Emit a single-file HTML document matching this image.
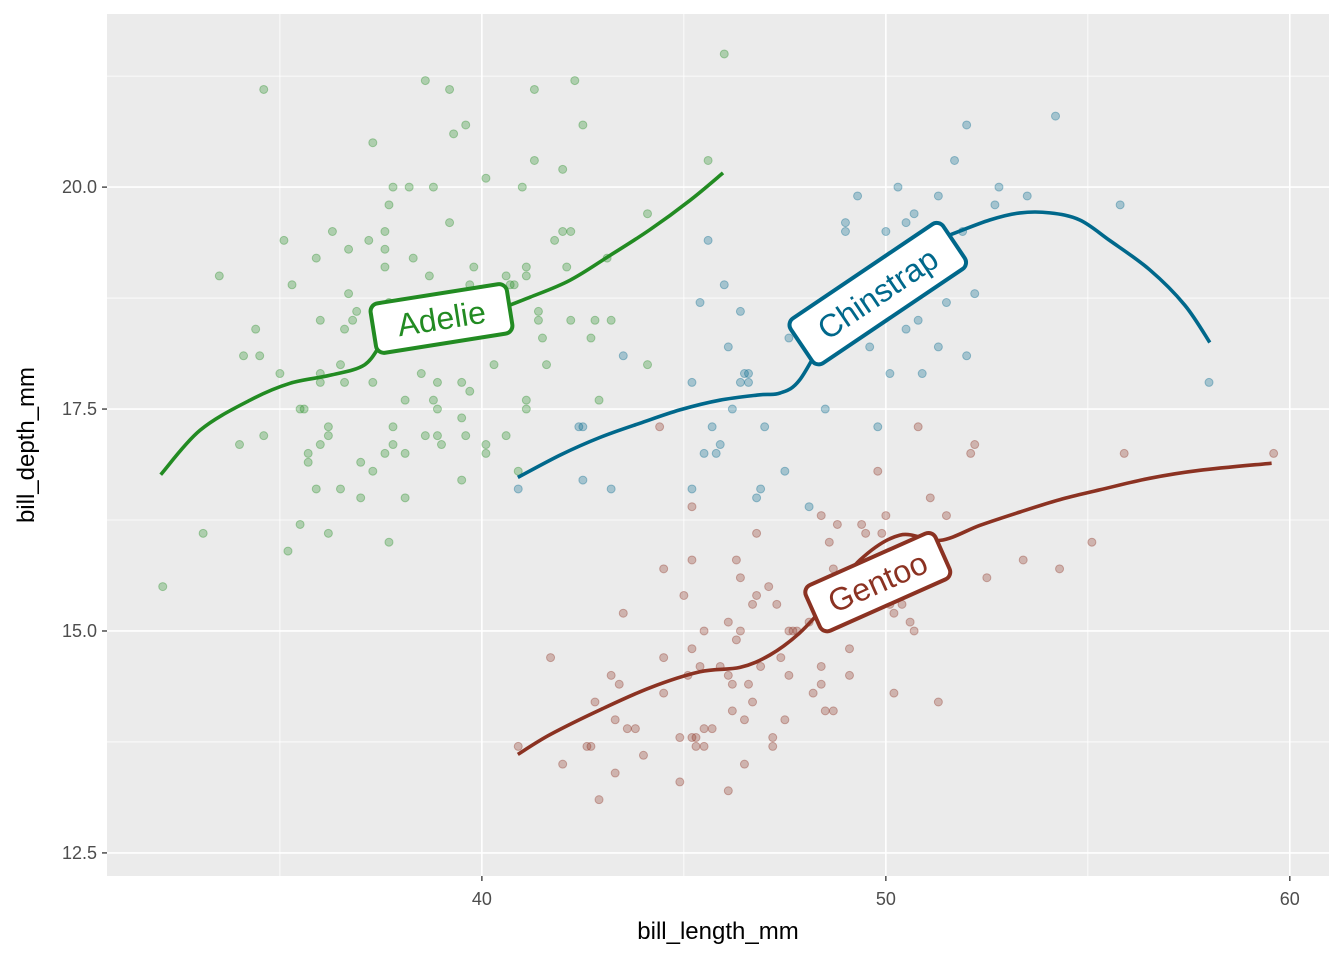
<!DOCTYPE html>
<html><head><meta charset="utf-8"><style>
body{margin:0;background:#fff;}
svg{display:block;font-family:"Liberation Sans",sans-serif;}
</style></head><body>
<svg id="chart" width="1344" height="960">
<rect x="0" y="0" width="1344" height="960" fill="#fff"/>
<rect x="107" y="14" width="1222" height="862" fill="#ebebeb"/>
<g id="grid"></g>
<g id="points"></g>
<g id="lines"></g>
<g id="labels"></g>
<g id="axes"></g>
<text x="718" y="939" font-size="24" text-anchor="middle" fill="#000">bill_length_mm</text>
<text transform="translate(34,445) rotate(-90)" font-size="24" text-anchor="middle" fill="#000">bill_depth_mm</text>
</svg>
<script>
const xTicks=[40,50,60];
const yTicks=[12.5,15.0,17.5,20.0];
const xMinor=[35,45,55];
const yMinor=[13.75,16.25,18.75,21.25];
const speciesNames=["Adelie","Chinstrap","Gentoo"];
const adelieX=[32.1,33.1,33.5,34.6,34.4,34.1,34.5,34.0,34.6,35.0,35.1,35.3,35.5,35.6,35.5,35.2,35.7,35.7,35.9,36.0,36.0,36.0,36.0,35.9,36.2,36.2,36.2,36.3,36.5,36.5,36.6,36.7,36.7,36.8,36.9,36.6,37.0,37.0,37.2,37.3,37.3,37.3,37.6,37.6,37.6,37.6,37.7,37.7,37.8,37.7,37.8,37.8,38.1,38.1,38.1,38.2,38.3,38.5,38.6,38.6,38.7,38.8,38.8,38.9,38.9,38.9,39.0,39.2,39.2,39.3,39.5,39.5,39.5,39.6,39.6,39.7,39.8,39.7,40.1,40.1,40.1,40.3,40.6,40.6,40.7,40.8,40.9,41.0,41.1,41.1,41.1,41.1,41.3,41.3,41.4,41.4,41.5,41.6,41.8,42.0,42.0,42.2,42.1,42.2,42.3,42.5,42.7,42.8,42.9,43.1,43.2,44.1,44.1,45.6,46.0];
const adelieY=[15.5,16.1,19.0,21.1,18.4,18.1,18.1,17.1,17.2,17.9,19.4,18.9,17.5,17.5,16.2,15.9,17.0,16.9,19.2,18.5,17.9,17.8,17.1,16.6,17.3,17.2,16.1,19.5,16.6,18.0,18.4,19.3,18.8,18.5,18.6,17.8,16.9,16.5,19.4,20.5,17.8,16.8,19.5,19.1,19.3,17.0,16.0,19.8,20.0,18.7,17.3,17.1,16.5,17.6,17.0,20.0,19.2,17.9,21.2,17.2,19.0,20.0,17.6,17.8,17.5,17.2,17.1,19.6,21.1,20.6,17.8,17.4,16.7,20.7,17.2,17.7,19.1,18.9,20.1,17.1,17.0,18.0,19.0,17.2,18.9,18.9,16.8,20.0,19.1,19.0,17.5,17.6,21.1,20.3,18.6,18.5,18.3,18.0,19.4,20.2,19.5,19.5,19.1,18.5,21.2,20.7,18.3,18.5,17.6,19.2,18.5,18.0,19.7,20.3,21.5];
const chinX=[40.9,42.4,42.5,42.5,43.2,43.5,45.2,45.2,45.4,45.5,45.6,45.7,45.8,45.9,46.0,46.1,46.2,46.4,46.4,46.5,46.6,46.6,46.8,46.9,47.0,47.5,47.6,48.1,48.5,49.0,49.0,49.3,49.6,49.8,50.0,50.1,50.3,50.5,50.5,50.7,50.8,50.9,51.3,51.3,51.5,51.7,51.9,52.0,52.0,52.2,52.7,52.8,53.5,54.2,55.8,58.0];
const chinY=[16.6,17.3,17.3,16.7,16.6,18.1,17.8,16.6,18.7,17.0,19.4,17.3,17.0,17.1,18.9,18.2,17.5,18.6,17.8,17.9,17.8,17.9,16.5,16.6,17.3,16.8,18.3,16.4,17.5,19.6,19.5,19.9,18.2,17.3,19.5,17.9,20.0,18.4,19.6,19.7,18.5,17.9,18.2,19.9,18.7,20.3,19.5,20.7,18.1,18.8,19.8,20.0,19.9,20.8,19.8,17.8];
const gentooX=[40.9,42.0,41.7,42.6,42.7,42.8,42.9,43.2,43.3,43.3,43.4,43.5,43.6,43.8,44.0,44.4,44.5,44.5,44.5,44.9,44.9,45.0,45.1,45.2,45.2,45.2,45.2,45.3,45.3,45.4,45.5,45.5,45.7,45.5,45.9,46.1,46.1,46.1,46.2,46.2,46.3,46.3,46.4,46.4,46.5,46.5,46.6,46.7,46.7,46.8,46.8,46.9,47.1,47.2,47.2,47.3,47.4,47.5,47.6,47.7,47.8,47.6,48.2,48.1,48.4,48.4,48.4,48.5,48.7,48.6,48.7,48.8,49.0,49.1,49.1,49.4,49.5,49.6,49.8,49.9,50.0,50.1,50.2,50.2,50.4,50.6,50.7,50.8,51.1,51.3,51.5,52.1,52.2,52.5,53.4,54.3,55.1,55.9,59.6];
const gentooY=[13.7,13.5,14.7,13.7,13.7,14.2,13.1,14.5,13.4,14.0,14.4,15.2,13.9,13.9,13.6,17.3,15.7,14.7,14.3,13.8,13.3,15.4,14.5,16.4,15.8,14.8,13.8,13.8,13.7,14.6,15.0,13.9,13.9,13.7,14.6,15.1,14.5,13.2,14.4,14.1,15.8,14.9,15.6,15.0,14.0,13.5,14.4,15.3,14.2,15.4,16.1,14.6,15.5,13.8,13.7,15.3,14.7,14.0,15.0,15.0,15.0,14.5,14.3,15.1,16.3,14.6,14.4,14.1,14.1,16.0,15.7,16.2,15.6,14.8,14.5,16.2,16.1,15.3,16.8,16.1,16.3,15.3,14.3,15.2,15.3,15.1,15.0,17.3,16.5,14.2,16.3,17.0,17.1,15.6,15.8,15.7,16.0,17.0,17.0];
const adelieLineX=[32.05,33.02,34.26,35.25,36.24,37.10,37.6,38.22,38.96,39.70,40.32,41.19,42.18,43.17,44.16,45.15,45.97];
const adelieLineY=[16.76,17.26,17.60,17.79,17.88,18.0,18.28,18.45,18.50,18.55,18.61,18.76,18.95,19.23,19.52,19.85,20.16];
const chinLineX=[40.89,41.93,42.92,43.91,44.90,45.89,46.88,47.38,47.87,48.61,49.60,50.59,51.58,52.57,53.32,54.06,54.80,55.54,56.53,57.40,58.02];
const chinLineY=[16.73,16.98,17.18,17.34,17.49,17.60,17.66,17.68,17.83,18.39,18.95,19.29,19.46,19.63,19.71,19.71,19.63,19.40,19.07,18.67,18.25];
const gentooLineX=[40.89,41.68,42.92,44.16,45.40,46.39,47.13,47.87,48.61,49.36,50.35,51.34,52.33,53.32,54.31,55.30,56.53,57.77,59.55];
const gentooLineY=[13.61,13.83,14.11,14.36,14.54,14.59,14.73,14.98,15.35,15.80,16.08,16.02,16.19,16.34,16.48,16.59,16.72,16.81,16.89];
const labelX=[39.0,49.8,49.8];
const labelY=[18.52,18.8,15.55];

const X0=107,X1=1329,Y0=14,Y1=876;
const xmin=30.72,xmax=60.97,ymin=12.24,ymax=21.95;
const sx=v=>X0+(v-xmin)/(xmax-xmin)*(X1-X0);
const sy=v=>Y1-(v-ymin)/(ymax-ymin)*(Y1-Y0);
const NS="http://www.w3.org/2000/svg";
function mk(tag,attrs,parent){const e=document.createElementNS(NS,tag);for(const k in attrs)e.setAttribute(k,attrs[k]);parent.appendChild(e);return e;}
const grid=document.getElementById('grid');
xMinor.forEach(v=>{const l=mk('line',{x1:sx(v),x2:sx(v),y1:Y0,y2:Y1,stroke:'#fff','stroke-width':0.8},grid);

});
yMinor.forEach(v=>{const l=mk('line',{x1:X0,x2:X1,y1:sy(v),y2:sy(v),stroke:'#fff','stroke-width':0.8},grid);

});
const axes=document.getElementById('axes');
xTicks.forEach(v=>{const l=mk('line',{x1:sx(v),x2:sx(v),y1:Y0,y2:Y1,stroke:'#fff','stroke-width':1.6},grid);


const t=mk('line',{x1:sx(v),x2:sx(v),y1:Y1,y2:Y1+5,stroke:'#333','stroke-width':1.3},axes);


const tx=mk('text',{x:sx(v),y:Y1+29,'font-size':18,'text-anchor':'middle',fill:'#4d4d4d'},axes);tx.textContent=v;

});
yTicks.forEach(v=>{const l=mk('line',{x1:X0,x2:X1,y1:sy(v),y2:sy(v),stroke:'#fff','stroke-width':1.6},grid);


const t=mk('line',{x1:X0-5,x2:X0,y1:sy(v),y2:sy(v),stroke:'#333','stroke-width':1.3},axes);


const tx=mk('text',{x:X0-10,y:sy(v)+6,'font-size':18,'text-anchor':'end',fill:'#4d4d4d'},axes);tx.textContent=v.toFixed(1);

});

const colors=['#228b22','#00688b','#8b3222'];
const ptsets=[[adelieX,adelieY],[chinX,chinY],[gentooX,gentooY]];
const lines=[[adelieLineX,adelieLineY],[chinLineX,chinLineY],[gentooLineX,gentooLineY]];
const pg=document.getElementById('points');
ptsets.forEach((s,k)=>{s[0].forEach((x,i)=>{const c=mk('circle',{cx:sx(x),cy:sy(s[1][i]),r:4,fill:colors[k],'fill-opacity':0.3,stroke:colors[k],'stroke-opacity':0.35,'stroke-width':1},pg);

});});
function smoothPath(P){let d='M'+P[0][0].toFixed(1)+','+P[0][1].toFixed(1);
for(let i=0;i<P.length-1;i++){const p0=P[i-1]||P[i],p1=P[i],p2=P[i+1],p3=P[i+2]||p2;
const c1=[p1[0]+(p2[0]-p0[0])/6,p1[1]+(p2[1]-p0[1])/6],c2=[p2[0]-(p3[0]-p1[0])/6,p2[1]-(p3[1]-p1[1])/6];
d+=` C${c1[0].toFixed(1)},${c1[1].toFixed(1)} ${c2[0].toFixed(1)},${c2[1].toFixed(1)} ${p2[0].toFixed(1)},${p2[1].toFixed(1)}`;}
return d;}
const lg=document.getElementById('lines');
lines.forEach((s,k)=>{const P=s[0].map((x,i)=>[sx(x),sy(s[1][i])]);
const p=mk('path',{d:smoothPath(P),fill:'none',stroke:colors[k],'stroke-width':3.6,'stroke-linejoin':'round'},lg);

});
const lb=document.getElementById('labels');
const boxes=[[138,50,-9],[184,54,-34],[142,50,-24]];
speciesNames.forEach((n,k)=>{const cx=sx(labelX[k]),cy=sy(labelY[k]);
const g=mk('g',{transform:`translate(${cx},${cy}) rotate(${boxes[k][2]})`},lb);


const [w,h]=boxes[k];
mk('rect',{x:-w/2,y:-h/2,width:w,height:h,rx:8,fill:'#fff',stroke:colors[k],'stroke-width':4},g);
const t=mk('text',{x:0,y:11,'font-size':32,'text-anchor':'middle',fill:colors[k]},g);t.textContent=n;});
</script>
</body></html>
